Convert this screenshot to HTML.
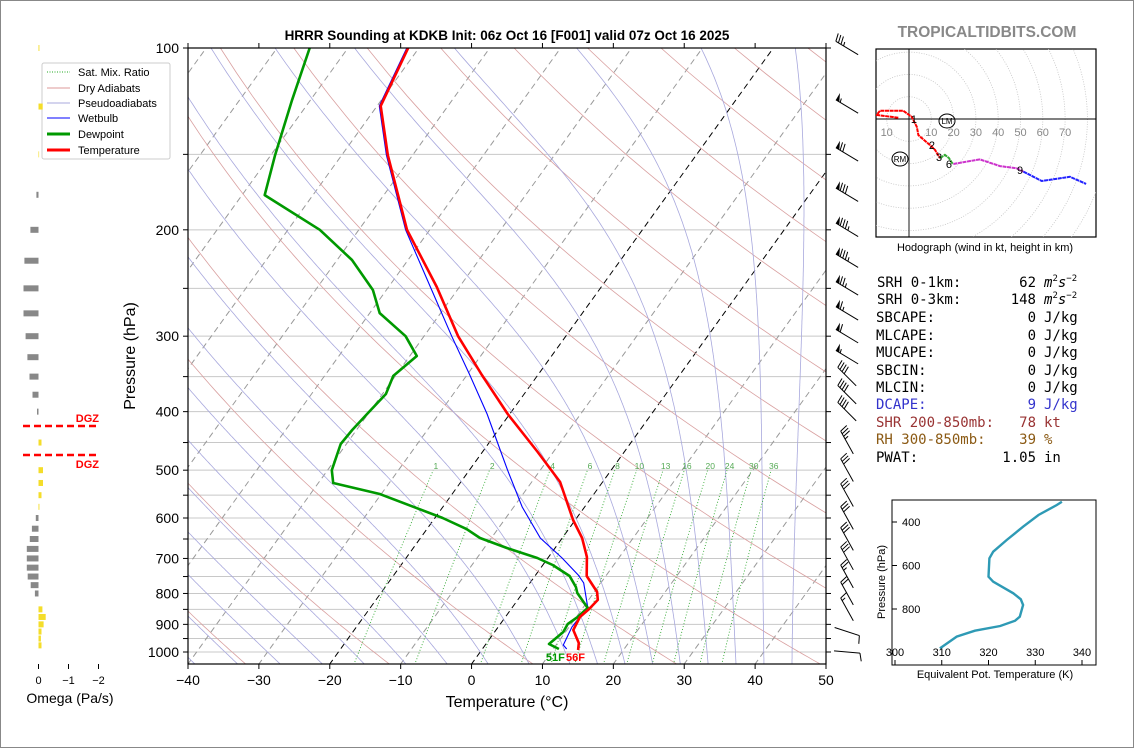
<!DOCTYPE html>
<html><head><meta charset="utf-8"><style>
html,body{margin:0;padding:0;background:#fff;}
svg{display:block;font-family:"Liberation Sans","DejaVu Sans",sans-serif;}
.mono{font-family:"DejaVu Sans Mono","Liberation Mono",monospace;font-size:14px;}
</style></head><body>
<svg id="chart" width="1134" height="748" viewBox="0 0 1134 748" xmlns="http://www.w3.org/2000/svg">
<rect x="0.5" y="0.5" width="1133" height="747" fill="#fff" stroke="#888"/>
<defs><clipPath id="clipMain"><rect x="188" y="48" width="638" height="616"/></clipPath>
<clipPath id="clipHodo"><rect x="876" y="49" width="220" height="188"/></clipPath></defs>
<text x="507" y="40" text-anchor="middle" font-size="13.5" font-weight="bold">HRRR Sounding at KDKB Init: 06z Oct 16 [F001] valid 07z Oct 16 2025</text>
<text x="987" y="37" text-anchor="middle" font-size="15.5" font-weight="bold" fill="#888">TROPICALTIDBITS.COM</text>
<g id="bg" clip-path="url(#clipMain)"></g>
<g id="prof" clip-path="url(#clipMain)"></g>
<g id="axes"></g>
<text x="0" y="0" transform="translate(135,356) rotate(-90)" text-anchor="middle" font-size="16">Pressure (hPa)</text>
<text x="507" y="707" text-anchor="middle" font-size="16">Temperature (°C)</text>
<g>
<rect x="42" y="63" width="128" height="96" fill="#fff" stroke="#ccc" rx="2"/>
<line x1="47" y1="72" x2="70" y2="72" stroke="#2a2" stroke-dasharray="1,1.5"/>
<text x="78" y="76" font-size="11">Sat. Mix. Ratio</text>
<line x1="47" y1="88" x2="70" y2="88" stroke="#d99"/>
<text x="78" y="92" font-size="11">Dry Adiabats</text>
<line x1="47" y1="103" x2="70" y2="103" stroke="#aad"/>
<text x="78" y="107" font-size="11">Pseudoadiabats</text>
<line x1="47" y1="118" x2="70" y2="118" stroke="#00f"/>
<text x="78" y="122" font-size="11">Wetbulb</text>
<line x1="47" y1="134" x2="70" y2="134" stroke="#090" stroke-width="3"/>
<text x="78" y="138" font-size="11">Dewpoint</text>
<line x1="47" y1="150" x2="70" y2="150" stroke="#f00" stroke-width="3"/>
<text x="78" y="154" font-size="11">Temperature</text>
</g>
<g id="omega"></g>
<text x="70" y="703" text-anchor="middle" font-size="14">Omega (Pa/s)</text>
<g id="barbs"></g>
<g id="hodo"></g>
<text x="985" y="251" text-anchor="middle" font-size="11">Hodograph (wind in kt, height in km)</text>
<g class="mono">
<text x="877" y="287">SRH 0-1km:</text><text x="1036" y="287" text-anchor="end">62</text><text x="1044" y="287"><tspan font-style="italic">m</tspan><tspan font-size="9" dy="-6">2</tspan><tspan font-style="italic" dy="6">s</tspan><tspan font-size="9" dy="-6">−2</tspan></text>
<text x="877" y="304">SRH 0-3km:</text><text x="1036" y="304" text-anchor="end">148</text><text x="1044" y="304"><tspan font-style="italic">m</tspan><tspan font-size="9" dy="-6">2</tspan><tspan font-style="italic" dy="6">s</tspan><tspan font-size="9" dy="-6">−2</tspan></text>
<text x="876" y="322">SBCAPE:</text><text x="1036" y="322" text-anchor="end">0</text><text x="1044" y="322">J/kg</text>
<text x="876" y="340">MLCAPE:</text><text x="1036" y="340" text-anchor="end">0</text><text x="1044" y="340">J/kg</text>
<text x="876" y="357">MUCAPE:</text><text x="1036" y="357" text-anchor="end">0</text><text x="1044" y="357">J/kg</text>
<text x="876" y="375">SBCIN:</text><text x="1036" y="375" text-anchor="end">0</text><text x="1044" y="375">J/kg</text>
<text x="876" y="392">MLCIN:</text><text x="1036" y="392" text-anchor="end">0</text><text x="1044" y="392">J/kg</text>
<text x="876" y="409" fill="#3333cc">DCAPE:</text><text x="1036" y="409" text-anchor="end" fill="#3333cc">9</text><text x="1044" y="409" fill="#3333cc">J/kg</text>
<text x="876" y="427" fill="#993333">SHR 200-850mb:</text><text x="1036" y="427" text-anchor="end" fill="#993333">78</text><text x="1044" y="427" fill="#993333">kt</text>
<text x="876" y="444" fill="#8b5a14">RH 300-850mb:</text><text x="1036" y="444" text-anchor="end" fill="#8b5a14">39</text><text x="1044" y="444" fill="#8b5a14">%</text>
<text x="876" y="462">PWAT:</text><text x="1036" y="462" text-anchor="end">1.05</text><text x="1044" y="462">in</text>
</g>
<g id="thetae"></g>
<text x="0" y="0" transform="translate(885,582) rotate(-90)" text-anchor="middle" font-size="11">Pressure (hPa)</text>
<text x="995" y="678" text-anchor="middle" font-size="11">Equivalent Pot. Temperature (K)</text>
</svg>
<script>
// ---- data ----
const tempP = [100,124.7,150.4,200,248.7,300,347.8,403.6,466.6,523,604.5,647.6,696,748.5,795.5,820,848.8,875,919.4,966.3,992.4];
const tempC = [-71.5,-69.5,-63.5,-53.2,-43.2,-35.2,-27.9,-20.3,-12.2,-6.0,-0.3,2.8,5.4,7.3,10.4,11.3,11.0,10.5,10.9,13.0,13.6];
const dewP = [100,121.9,150.4,175.2,200,224.4,251.6,274.7,300,323.6,349.1,374,402,429,452.5,500,525,547.6,600,626,647.6,672.6,698.8,717.8,748.5,780.5,798.5,845.7,875,898.5,926.7,970.1,988.6];
const dewC = [-85.4,-82.6,-79.4,-76.8,-65.5,-57.9,-51.9,-48.6,-42.6,-39.0,-40.3,-39.5,-40.1,-40.6,-40.8,-39.4,-37.9,-30.2,-18.9,-14.4,-11.6,-6.8,-1.5,1.4,4.9,6.9,7.7,10.7,10.2,9.5,9.7,8.9,10.8];
const wbP = [100,124.7,150.4,200,248.7,300,347.8,403.6,463,500,575.4,647.6,698.8,745.6,768.8,842.4,908.8,973.5,988.6];
const wbC = [-71.7,-69.7,-63.7,-53.4,-44.1,-36.1,-29.6,-23.2,-17.7,-14.6,-8.8,-3.1,2.0,6.0,7.6,10.6,10.4,11.0,11.9];
const mixRatios = [1,2,4,6,8,10,13,16,20,24,30,36];
const moistStarts = [-42,-36,-30,-24,-18,-12,-6,0,6,12,16,20,24,28,32,36,40,44];
const xTicks = [-40,-30,-20,-10,0,10,20,30,40,50];
const pGrid = [100,150,200,250,300,350,400,450,500,550,600,650,700,750,800,850,900,950,1000];
const pLabels = [100,200,300,400,500,600,700,800,900,1000];
const omegaP = [100,125,150,175,200,225,250,275,300,325,350,375,400,425,450,475,500,525,550,575,600,625,650,675,700,725,750,775,800,825,850,875,900,925,950,975,1000];
const omegaV = [-0.03,-0.14,-0.02,0.07,0.27,0.47,0.5,0.5,0.43,0.37,0.3,0.2,0.05,0,-0.1,0,-0.15,-0.15,-0.1,-0.03,0.09,0.22,0.29,0.39,0.39,0.39,0.36,0.26,0.12,0,-0.13,-0.24,-0.17,-0.1,-0.08,-0.1,0];
const barbP = [100,125,150,175,200,225,250,275,300,325,350,375,400,450,500,550,600,650,700,750,800,850,925,1000];
const barbDir = [301,301,301,301,301,301,301,301,301,301,315,315,315,331,331,331,331,331,331,331,331,331,108,95];
const barbSpd = [35,55,70,80,85,85,75,65,60,55,40,40,40,35,30,30,30,30,30,25,20,15,10,10];
const hodoRedU = [-4.8,-14.5,-13,-2.6,1.2,3.5,4.2,9.4,11.7,13.9];
const hodoRedV = [0.6,1.8,3.7,3.7,1.0,-3.5,-7.2,-11.7,-13.9,-17.6];
const hodoGreenU = [13.9,16.1,17.9,19.3,19.9];
const hodoGreenV = [-17.6,-16.1,-17.5,-19.7,-20.2];
const hodoMagU = [19.9,25.9,31.8,40.8,48.3,51.3];
const hodoMagV = [-20.2,-19.1,-18.1,-21.1,-22.1,-23.6];
const hodoBlueU = [51.3,59.5,72.2,79.4];
const hodoBlueV = [-23.6,-27.8,-25.9,-29.1];
const thetaK = [335.7,334.6,330.7,327.4,323.9,321.0,320.2,320.0,321.0,325.3,326.9,327.4,326.7,325.7,322.5,317.1,313.2,309.6];
const thetaP = [306.7,321.8,367.8,421.6,482.8,536.6,567,651.5,674.5,728,755.6,781.6,835.4,853.8,878,899.7,927,981];

// ---- helpers ----
const NS = "http://www.w3.org/2000/svg";
function mk(tag, attrs, parent){ const e=document.createElementNS(NS,tag); for(const k in attrs) e.setAttribute(k,attrs[k]); parent.appendChild(e); return e; }
const yP = p => 48 + 604*Math.log10(p/100);
const xT = (T,p) => 188 + (T+40)*7.089 + 0.72*(664 - yP(p));
function pathPT(ps, ts){ return ps.map((p,i)=>(i?'L':'M')+xT(ts[i],p).toFixed(1)+','+yP(p).toFixed(1)).join(''); }
const bg = document.getElementById('bg'), prof=document.getElementById('prof'), axes=document.getElementById('axes');

// horizontal grid
pGrid.forEach(p=>{ const l=mk('line',{x1:188,x2:826,y1:yP(p),y2:yP(p),stroke:'#c8c8c8','stroke-width':1},bg);

 });
// isotherms
for(let T=-130;T<=50;T+=10){ const blk=(T===0||T===-20);
 const l=mk('line',{x1:xT(T,1050),y1:yP(1050),x2:xT(T,100),y2:yP(100),stroke:blk?'#000':'#999','stroke-width':1,'stroke-dasharray':'6,4'},bg);
 
  }
// dry adiabats (20 K spacing)
for(let T0=-55;T0<=245;T0+=20){ const th=T0+273.15; const ps=[],ts=[];
 for(let p=1050;p>=100;p-=10){ ps.push(p); ts.push(th*Math.pow(p/1000,0.2857)-273.15); }
 const l=mk('path',{d:pathPT(ps,ts),fill:'none',stroke:'#d9a0a0','stroke-width':0.8},bg);
 
  }
// moist adiabats
function es(Tc){ return 6.112*Math.exp(17.67*Tc/(Tc+243.5)); }
function dTdp(T,p){ const Tc=T-273.15; const e=es(Tc); const rs=0.622*e/Math.max(p-e,1); const Rd=287,cp=1005,Lv=2.501e6;
 return (Rd*T+Lv*rs)/(cp+Lv*Lv*rs*0.622/(Rd*T*T))/p; }
moistStarts.forEach(T0=>{ const up=[],down=[]; let T=T0+273.15;
 for(let p=1000;p>=100;p-=2){ up.push([p,T-273.15]); const k1=dTdp(T,p); const k2=dTdp(T-2*k1,p-2); T-=2*(k1+k2)/2; }
 T=T0+273.15; for(let p=1000;p<=1050;p+=2){ down.push([p,T-273.15]); const k1=dTdp(T,p); T+=2*k1; }
 const all=down.reverse().concat(up);
 const l=mk('path',{d:pathPT(all.map(a=>a[0]),all.map(a=>a[1])),fill:'none',stroke:'#a8a8dd','stroke-width':0.8},bg);
 
  });
// mixing ratio
mixRatios.forEach(w=>{ const ps=[],ts=[]; for(let p=1050;p>=500;p-=10){ const e=w*p/(622+w); const a=Math.log(e/6.112); ps.push(p); ts.push(243.5*a/(17.67-a)); }
 const l=mk('path',{d:pathPT(ps,ts),fill:'none',stroke:'#3a3','stroke-width':0.9,'stroke-dasharray':'1,2'},bg);
 
 
 const t=mk('text',{x:xT(ts[ts.length-1],493),y:469,'text-anchor':'middle','font-size':8.5,fill:'#5a5'},bg); t.textContent=w;
 
  });
// profiles
let e;
e=mk('path',{d:pathPT(wbP,wbC),fill:'none',stroke:'#00f','stroke-width':1.1},prof);


e=mk('path',{d:pathPT(dewP,dewC),fill:'none',stroke:'#090','stroke-width':2.6,'stroke-linejoin':'round'},prof);


e=mk('path',{d:pathPT(tempP,tempC),fill:'none',stroke:'#f00','stroke-width':2.6,'stroke-linejoin':'round'},prof);


// surface labels
const sT=tempC[tempC.length-1], sD=dewC[dewC.length-1];
e=mk('text',{x:xT(sT,tempP[tempP.length-1])-12,y:661,'font-size':11,'font-weight':'bold',fill:'#f00'},axes); e.textContent=Math.round(sT*9/5+32)+'F';


e=mk('text',{x:xT(sD,dewP[dewP.length-1])-13,y:661,'font-size':11,'font-weight':'bold',fill:'#090'},axes); e.textContent=Math.round(sD*9/5+32)+'F';


// frame & ticks
e=mk('rect',{x:188,y:48,width:638,height:616,fill:'none',stroke:'#000','stroke-width':1.2},axes);


pGrid.forEach(p=>{ const y=yP(p);
 e=mk('line',{x1:183,x2:188,y1:y,y2:y,stroke:'#000'},axes);
 
 
 e=mk('line',{x1:826,x2:831,y1:y,y2:y,stroke:'#000'},axes);
 
  });
pLabels.forEach(p=>{ e=mk('text',{x:179,y:yP(p)+5,'text-anchor':'end','font-size':14},axes); e.textContent=p;
 
  });
xTicks.forEach(T=>{ const x=188+(T+40)*7.089;
 e=mk('line',{x1:x,x2:x,y1:664,y2:669,stroke:'#000'},axes);
 
 
 e=mk('line',{x1:x,x2:x,y1:43,y2:48,stroke:'#000'},axes);
 
 
 e=mk('text',{x:x,y:685,'text-anchor':'middle','font-size':14},axes); e.textContent=(T<0?'\u2212':'')+Math.abs(T);
 
  });

// omega panel
const om=document.getElementById('omega'); const x0=38.5, ox=w=>x0-30*w;
omegaP.forEach((p,i)=>{ const w=omegaV[i]; if(w===0) return; const y=yP(p);
 const r=mk('rect',{x:Math.min(x0,ox(w)),y:y-3,width:Math.abs(ox(w)-x0),height:6,fill:w>0?'#888':'#f4dd2a'},om);
 
  });
[0,-1,-2].forEach(v=>{ const x=ox(v);
 e=mk('line',{x1:x,x2:x,y1:664,y2:669,stroke:'#000'},om);
 
 
 e=mk('text',{x:x,y:684,'text-anchor':'middle','font-size':11},om); e.textContent=v<0?'\u2212'+(-v):'0';
 
  });
[426,455].forEach((y,i)=>{ e=mk('line',{x1:23,x2:99,y1:y,y2:y,stroke:'#f00','stroke-width':2.5,'stroke-dasharray':'7,4'},om);
 
 
 e=mk('text',{x:99,y:i?468:422,'text-anchor':'end','font-size':11,'font-weight':'bold',fill:'#f00'},om); e.textContent='DGZ';
 
  });

// wind barbs
const bgp=document.getElementById('barbs');
barbP.forEach((p,i)=>{ const cx=847, cy=yP(p), L=26, d=barbDir[i]*Math.PI/180;
 const s=[Math.sin(d),-Math.cos(d)], f=[-s[1],s[0]];
 const tip=[cx+s[0]*L/2,cy+s[1]*L/2], base=[cx-s[0]*L/2,cy-s[1]*L/2];
 const g=mk('g',{},bgp);
 
 
 mk('line',{x1:base[0],y1:base[1],x2:tip[0],y2:tip[1],stroke:'#000','stroke-width':1},g);
 let spd=Math.round(barbSpd[i]/5)*5, pos=0;
 const at=t=>[tip[0]-s[0]*t,tip[1]-s[1]*t];
 while(spd>=50){ const a=at(pos),b=at(pos+4);
  mk('polygon',{points:`${a[0]},${a[1]} ${a[0]+f[0]*8},${a[1]+f[1]*8} ${b[0]},${b[1]}`,fill:'#000'},g); pos+=5; spd-=50; }
 while(spd>=10){ const a=at(pos); mk('line',{x1:a[0],y1:a[1],x2:a[0]+f[0]*8+s[0]*2,y2:a[1]+f[1]*8+s[1]*2,stroke:'#000','stroke-width':1},g); pos+=3; spd-=10; }
 if(spd>=5){ if(pos===0) pos=3; const a=at(pos); mk('line',{x1:a[0],y1:a[1],x2:a[0]+f[0]*4+s[0],y2:a[1]+f[1]*4+s[1],stroke:'#000','stroke-width':1},g); }
});

// hodograph
const hg=document.getElementById('hodo'); const HX=909, HY=119, HS=2.23;
const hx=u=>HX+u*HS, hy=v=>HY-v*HS;
e=mk('rect',{x:876,y:49,width:220,height:188,fill:'#fff',stroke:'#000','stroke-width':1.2},hg);


const hc=mk('g',{'clip-path':'url(#clipHodo)'},hg);
for(let r=10;r<=100;r+=10){ e=mk('circle',{cx:HX,cy:HY,r:r*HS,fill:'none',stroke:'#c4c4c4','stroke-width':0.8,'stroke-dasharray':'1,1.5'},hc);
 
  }
e=mk('line',{x1:876,x2:1096,y1:HY,y2:HY,stroke:'#000','stroke-width':0.9},hc);


e=mk('line',{x1:HX,x2:HX,y1:49,y2:237,stroke:'#000','stroke-width':0.9},hc);


[-10,10,20,30,40,50,60,70].forEach(r=>{ e=mk('text',{x:hx(r),y:136,'text-anchor':'middle','font-size':11,fill:'#888'},hc); e.textContent=Math.abs(r);
 
  });
[[hodoRedU,hodoRedV,'#f00','red'],[hodoGreenU,hodoGreenV,'#3a3','green'],[hodoMagU,hodoMagV,'#c3c','magenta'],[hodoBlueU,hodoBlueV,'#22f','blue']].forEach(sg=>{
 const d=sg[0].map((u,i)=>(i?'L':'M')+hx(u).toFixed(1)+','+hy(sg[1][i]).toFixed(1)).join('');
 e=mk('path',{d:d,fill:'none',stroke:sg[2],'stroke-width':2,'stroke-dasharray':'4,0.6'},hc);
 
  });
[['1',2.2,0],['2',10.3,-11.7],['3',13.5,-17],['6',17.9,-20.2],['9',49.8,-22.9]].forEach(l=>{
 e=mk('text',{x:hx(l[1]),y:hy(l[2])+4,'text-anchor':'middle','font-size':11},hc); e.textContent=l[0];
 
  });
[['LM',947,121],['RM',900,159]].forEach(m=>{
 e=mk('ellipse',{cx:m[1],cy:m[2],rx:8,ry:7,fill:'none',stroke:'#000','stroke-width':1},hc);
 
 
 e=mk('text',{x:m[1],y:m[2]+3,'text-anchor':'middle','font-size':8},hc); e.textContent=m[0];
 
  });

// theta-e panel
const tg=document.getElementById('thetae');
const tx=k=>895+(k-300)*4.675, ty=p=>522+(p-400)/200*43.5;
e=mk('rect',{x:892,y:500,width:204,height:165,fill:'#fff',stroke:'#000','stroke-width':1},tg);


e=mk('path',{d:thetaK.map((k,i)=>(i?'L':'M')+tx(k).toFixed(1)+','+ty(thetaP[i]).toFixed(1)).join(''),fill:'none',stroke:'#2e9ab5','stroke-width':2.4},tg);


[400,600,800].forEach(p=>{ e=mk('line',{x1:892,x2:897,y1:ty(p),y2:ty(p),stroke:'#000'},tg);
 
 
 e=mk('text',{x:902,y:ty(p)+4,'font-size':11},tg); e.textContent=p;
 
  });
[300,310,320,330,340].forEach(k=>{ e=mk('line',{x1:tx(k),x2:tx(k),y1:660,y2:665,stroke:'#000'},tg);
 
 
 e=mk('text',{x:tx(k),y:656,'text-anchor':'middle','font-size':11},tg); e.textContent=k;
 
  });
</script>
</body></html>
